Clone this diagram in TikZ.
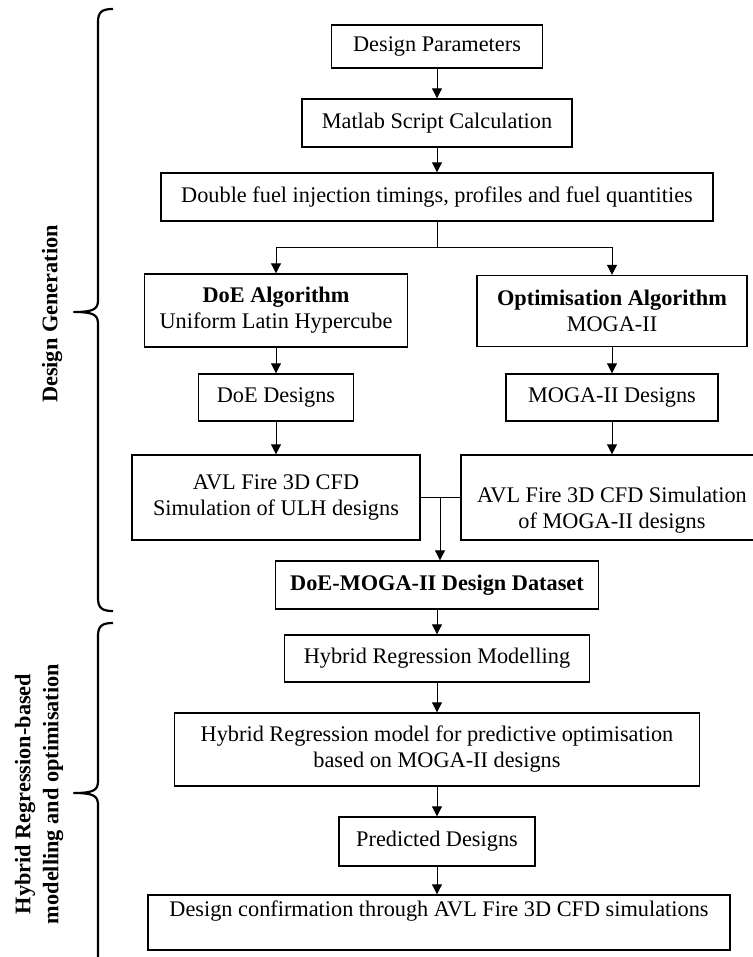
\documentclass[tikz,border=0pt]{standalone}
\usepackage{fontspec}
\setmainfont{Liberation Serif}
\usetikzlibrary{arrows.meta}

\begin{document}
\begin{tikzpicture}[x=1pt, y=-1pt,
    box/.style={draw, line width=1.4pt, inner sep=0pt, align=center,
                font=\fontsize{22.3}{26}\selectfont},
    flow/.style={-{Triangle[length=10pt,width=10pt]}, line width=1pt},
    joint/.style={line width=1pt},
    bracket/.style={line width=2.2pt, line join=round},
    side/.style={font=\fontsize{22.3}{28}\selectfont\bfseries, align=center,
                 rotate=90},
]
\useasboundingbox (0,0) rectangle (752,957);

% Design generation chain
\node[box, minimum width=211pt, minimum height=43pt] (params) at (437,46.5)
    {Design Parameters};
\node[box, minimum width=270pt, minimum height=48pt] (matlab) at (437,123)
    {Matlab Script Calculation};
\node[box, minimum width=552pt, minimum height=48pt] (timings) at (437,197)
    {Double fuel injection timings, profiles and fuel quantities};

% DoE branch
\node[box, minimum width=263pt, minimum height=73pt] (doealg) at (276,310.5)
    {\textbf{DoE Algorithm}\\Uniform Latin Hypercube};
\node[box, minimum width=155pt, minimum height=47pt] (doedes) at (276,397.5)
    {DoE Designs};
\node[box, minimum width=288pt, minimum height=85pt] (simulh) at (276,497.5)
    {AVL Fire 3D CFD\\Simulation of ULH designs};

% MOGA-II branch
\node[box, minimum width=270pt, minimum height=71pt] (optalg) at (612,311)
    {\textbf{Optimisation Algorithm}\\MOGA-II};
\node[box, minimum width=212pt, minimum height=47pt] (mogades) at (612,397.5)
    {MOGA-II Designs};
\node[box, minimum width=302pt, minimum height=85pt,
      text height=62pt, text depth=1pt] (simmoga) at (612,497.5)
    {AVL Fire 3D CFD Simulation\\of MOGA-II designs};

% Regression and confirmation
\node[box, minimum width=323pt, minimum height=48pt] (dataset) at (437,585)
    {\textbf{DoE-MOGA-II Design Dataset}};
\node[box, minimum width=305pt, minimum height=47pt] (hrm) at (437,658.5)
    {Hybrid Regression Modelling};
\node[box, minimum width=525pt, minimum height=73pt] (hrmodel) at (437,749.5)
    {Hybrid Regression model for predictive optimisation\\based on MOGA-II designs};
\node[box, minimum width=196pt, minimum height=49pt] (predicted) at (437,841.5)
    {Predicted Designs};
\node[box, minimum width=582pt, minimum height=55pt,
      text height=17pt, text depth=30pt] (confirm) at (439,922.5)
    {Design confirmation through AVL Fire 3D CFD simulations};

% Connectors
\coordinate (split) at (437,248);
\coordinate (merge) at (440,497.5);
\draw[flow] (params) -- (matlab);
\draw[flow] (matlab) -- (timings);
\draw[joint] (timings.south) -- (split);
\draw[flow] (split) -| (doealg.north);
\draw[flow] (split) -| (optalg.north);
\draw[flow] (doealg) -- (doedes);
\draw[flow] (doedes) -- (simulh);
\draw[flow] (optalg) -- (mogades);
\draw[flow] (mogades) -- (simmoga);
\draw[joint] (simulh.east) -- (merge) -- (simmoga.west);
\draw[flow] (merge) -- (merge |- dataset.north);
\draw[flow] (dataset) -- (hrm);
\draw[flow] (hrm) -- (hrmodel);
\draw[flow] (hrmodel) -- (predicted);
\draw[flow] (predicted) -- (confirm.north -| predicted);

% Side brackets
\draw[bracket] (113,9) .. controls (102,9) and (98,12) .. (98,22)
    -- (98,300) .. controls (98,309) and (94,312) .. (74,312)
    .. controls (94,312) and (98,315) .. (98,324)
    -- (98,598) .. controls (98,608) and (102,611) .. (113,611);
\draw[bracket] (113,623) .. controls (102,623) and (98,626) .. (98,636)
    -- (98,781) .. controls (98,790) and (94,793) .. (74,793)
    .. controls (94,793) and (98,796) .. (98,805)
    -- (98,970);

% Bracket labels
\node[side] (genlabel) at (52,314) {Design Generation};
\node[side] (hyblabel) at (39,794)
    {Hybrid Regression-based\\modelling and optimisation};
\end{tikzpicture}
\end{document}
